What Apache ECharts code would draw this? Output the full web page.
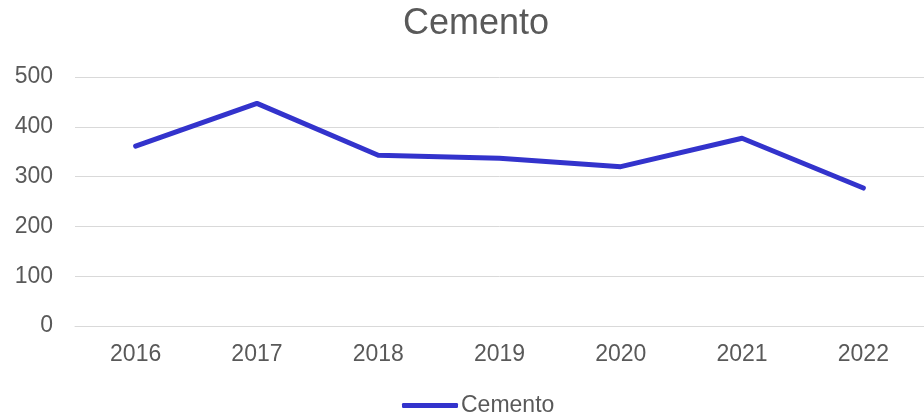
<!DOCTYPE html>
<html>
<head>
<meta charset="utf-8">
<script src="https://cdn.jsdelivr.net/npm/echarts@6/dist/echarts.min.js"></script>
<style>
  html, body { margin: 0; padding: 0; background: #fff; }
  #chart { width: 924px; height: 418px; }
</style>
</head>
<body>
<div id="chart"></div>
<script>
// datos del gráfico
const years = ["2016", "2017", "2018", "2019", "2020", "2021", "2022"];
const cemento = [361, 447, 343, 337, 320, 377, 277];
const yTicks = [0, 100, 200, 300, 400, 500];

const chart = echarts.init(document.getElementById("chart"));
const textColor = "#595959";
const font = "Liberation Sans, Arial, sans-serif";

chart.setOption({
  animation: false,
  title: {
    text: "Cemento",
    left: 398,
    top: 1,
    padding: [5, 5, 5, 5],
    textStyle: { fontFamily: font, fontSize: 36, fontWeight: "normal", color: textColor },
  },
  legend: {
    data: ["Cemento"],
    top: 389,
    left: 397,
    itemWidth: 56,
    itemHeight: 5,
    itemGap: 4,
    icon: "roundRect",
    textStyle: { fontFamily: font, fontSize: 23, color: textColor, padding: [0, 0, 0, -2] },
  },
  grid: { left: 75, right: 0, top: 77, bottom: 92 },
  xAxis: {
    type: "category",
    data: years,
    boundaryGap: true,
    axisLine: { show: true, lineStyle: { color: "#d9d9d9", width: 1 } },
    axisTick: { show: false },
    axisLabel: { fontFamily: font, fontSize: 23, color: textColor, margin: 17 },
  },
  yAxis: {
    type: "value",
    min: yTicks[0],
    max: yTicks[yTicks.length - 1],
    interval: 100,
    axisLine: { show: false },
    axisTick: { show: false },
    axisLabel: { fontFamily: font, fontSize: 23, color: textColor, margin: 22 },
    splitLine: { lineStyle: { color: "#d9d9d9", width: 1 } },
  },
  series: [
    {
      name: "Cemento",
      type: "line",
      data: cemento,
      symbol: "none",
      lineStyle: { color: "#3333CC", width: 5, cap: "round", join: "round" },
      itemStyle: { color: "#3333CC" },
    },
  ],
});
</script>
</body>
</html>
